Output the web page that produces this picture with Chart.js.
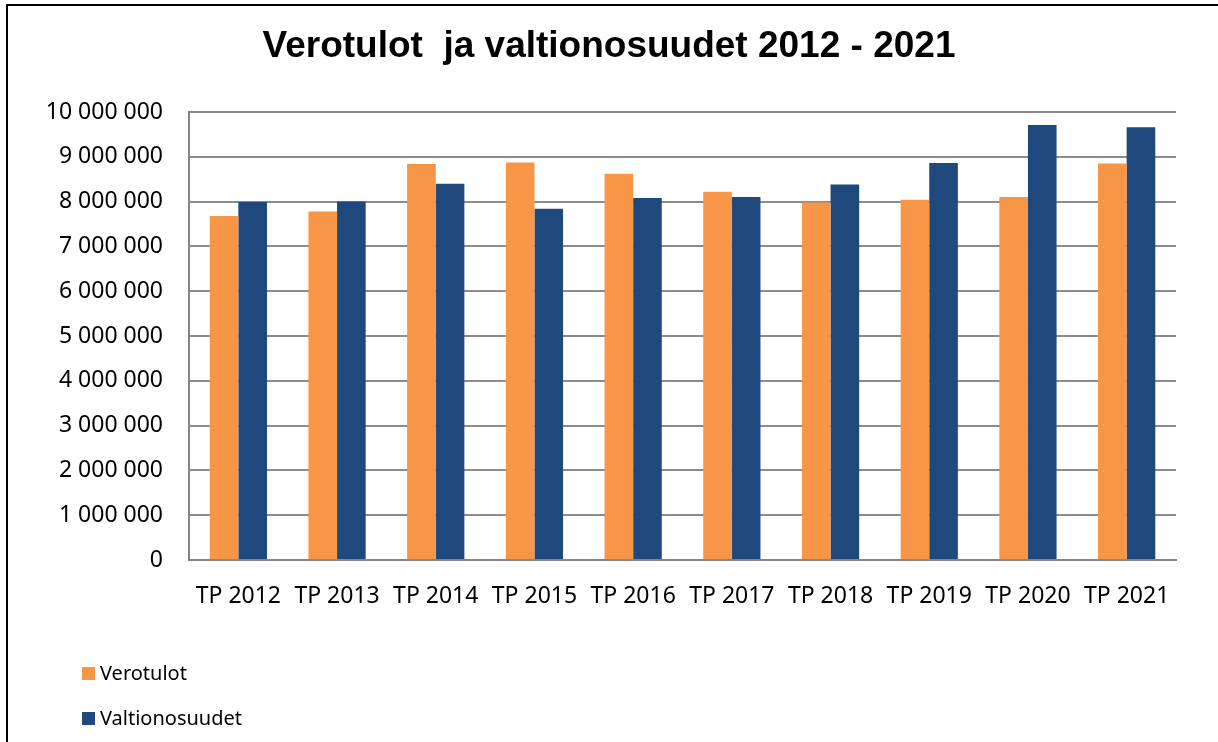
<!DOCTYPE html>
<html>
<head>
<meta charset="utf-8">
<script src="https://cdn.jsdelivr.net/npm/chart.js@4/dist/chart.umd.min.js"></script>
<style>
  html, body { margin: 0; padding: 0; background: #fff; overflow: hidden; }
  #wrap { width: 1218px; height: 742px; }
</style>
</head>
<body>
<div id="wrap"><canvas id="myChart" width="1218" height="742"></canvas></div>
<script>
let labels = ['TP 2012', 'TP 2013', 'TP 2014', 'TP 2015', 'TP 2016', 'TP 2017', 'TP 2018', 'TP 2019', 'TP 2020', 'TP 2021'];
let verotulot = [7680000, 7780000, 8840000, 8870000, 8620000, 8220000, 7980000, 8040000, 8100000, 8850000];
let valtionosuudet = [7990000, 8000000, 8400000, 7840000, 8080000, 8100000, 8380000, 8860000, 9710000, 9660000];
let seriesNames = ['Verotulot', 'Valtionosuudet'];
let colorHex = ['#F79646', '#1F497D'];
let titleText = 'Verotulot  ja valtionosuudet 2012 - 2021';

let fontFamily = '"Noto Sans", "Open Sans", sans-serif';

// frame, title (centred on the whole page) and legend in the lower left corner
let extras = {
    id: 'extras',
    afterDraw: (chart) => {
        let c = chart.ctx;
        c.save();
        c.strokeStyle = '#000';
        c.lineWidth = 2;
        c.beginPath();
        c.moveTo(7, 742);
        c.lineTo(7, 5);
        c.lineTo(1218, 5);
        c.stroke();

        c.fillStyle = '#000';
        c.font = 'bold 37px "Liberation Sans", Arial, sans-serif';
        c.textAlign = 'center';
        c.textBaseline = 'middle';
        c.fillText(titleText, chart.width / 2, 47);

        c.textAlign = 'left';
        c.font = '20px ' + fontFamily;
        chart.data.datasets.forEach((ds, i) => {
            let y = 674 + i * 45;
            c.fillStyle = ds.backgroundColor;
            c.fillRect(82, y - 7, 13, 13);
            c.fillStyle = '#000';
            c.fillText(ds.label, 100, y);
        });
        c.restore();
    }
};

let ctx = document.getElementById('myChart').getContext('2d');
let myChart = new Chart(ctx, {
    type: 'bar',
    data: {
        labels: labels,
        datasets: [{
            label: seriesNames[0],
            data: verotulot,
            backgroundColor: colorHex[0]
        }, {
            label: seriesNames[1],
            data: valtionosuudet,
            backgroundColor: colorHex[1]
        }]
    },
    options: {
        responsive: false,
        animation: false,
        devicePixelRatio: 1,
        layout: {
            padding: { left: 0, right: 42, top: 112, bottom: 0 }
        },
        datasets: {
            bar: {
                barPercentage: 1,
                categoryPercentage: 0.58
            }
        },
        plugins: {
            legend: { display: false },
            tooltip: { enabled: false },
            title: { display: false }
        },
        scales: {
            x: {
                grid: { display: false, drawTicks: false },
                border: { color: '#868686', width: 2 },
                ticks: {
                    color: '#000',
                    padding: 23,
                    maxRotation: 0,
                    font: { family: fontFamily, size: 23 }
                },
                afterFit: (scale) => { scale.height = 182; }
            },
            y: {
                min: 0,
                max: 10000000,
                grid: { color: '#8c8c8c', lineWidth: 2, drawTicks: false },
                border: { color: '#868686', width: 2 },
                ticks: {
                    stepSize: 1000000,
                    color: '#000',
                    padding: 26,
                    font: { family: fontFamily, size: 23 },
                    callback: (value) => {
                        return String(value).replace(/\B(?=(\d{3})+(?!\d))/g, ' ');
                    }
                },
                afterFit: (scale) => { scale.width = 189; }
            }
        }
    },
    plugins: [extras]
});
</script>
</body>
</html>
